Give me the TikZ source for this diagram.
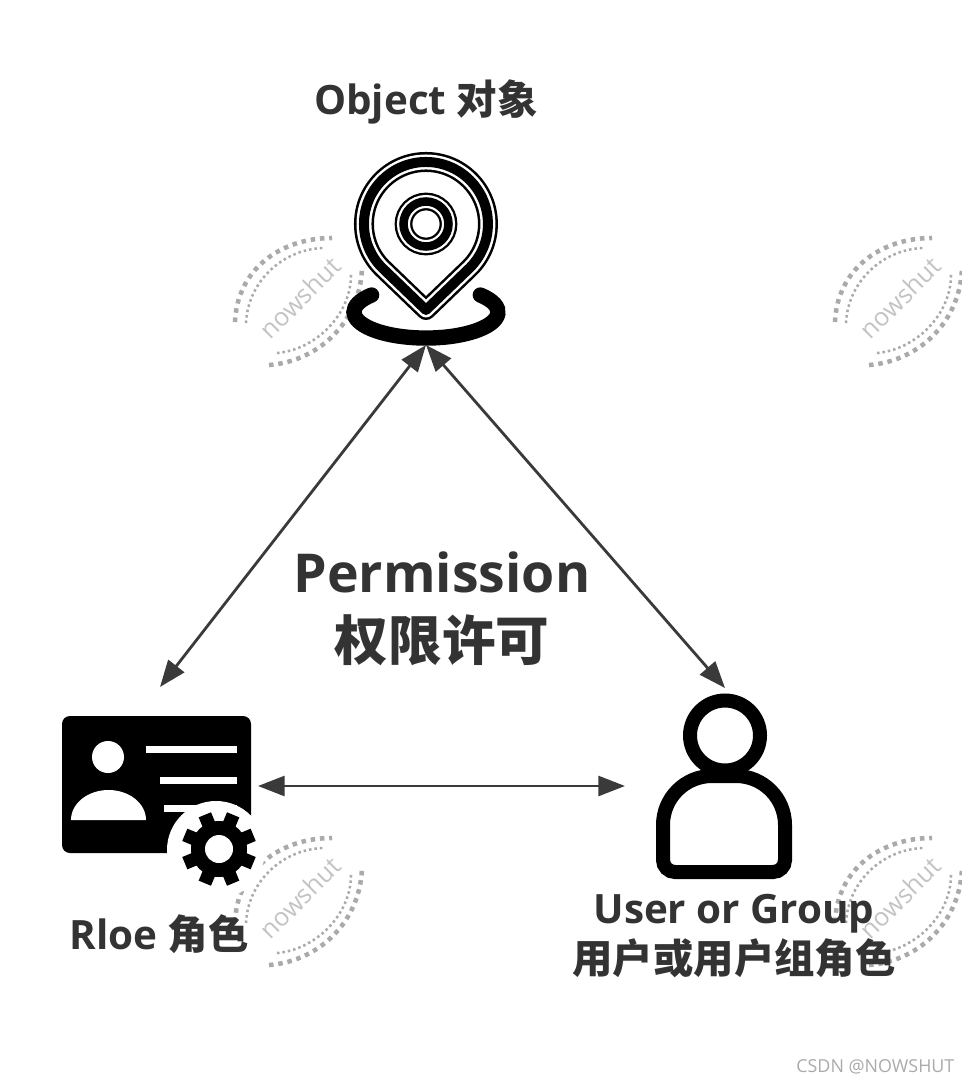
\documentclass[tikz,border=0pt]{standalone}
\usepackage{fontspec}
\setmainfont{Open Sans}
\newfontfamily\cjk{Noto Sans CJK SC}
\usetikzlibrary{arrows.meta,positioning}
\definecolor{inkGray}{RGB}{51,51,51}
\definecolor{arrowGray}{RGB}{58,58,58}
\definecolor{wmarkGray}{RGB}{170,170,170}
\definecolor{wmarkText}{RGB}{195,195,195}
\definecolor{footGray}{RGB}{170,170,170}
\tikzset{
  icon box/.style={inner sep=0pt,outer sep=0pt},
  small title/.style={align=center,text=inkGray,font=\fontsize{30.3pt}{37.5pt}\selectfont\bfseries},
  big title/.style={align=center,text=inkGray,font=\fontsize{40.2pt}{51pt}\selectfont\bfseries},
  link arrow/.style={{Triangle[length=20pt,width=15pt]}-{Triangle[length=20pt,width=15pt]},line width=2.1pt,draw=arrowGray},
  wmark outer/.style={draw=wmarkGray,line width=3.4pt,dash pattern=on 3.4pt off 3.6pt},
  wmark inner/.style={draw=wmarkGray,line width=1.9pt,dash pattern=on 1.9pt off 2.2pt},
  icon line/.style={draw=black,line width=10.5pt}
}
\begin{document}
\begin{tikzpicture}[x=.75pt,y=-.75pt]
  \useasboundingbox (0,0) rectangle (962,1084);
  % watermarks
  \foreach \wx in {0,600} {
    \foreach \wy in {0,600} {
      \begin{scope}[shift={(\wx,\wy)}]
        \draw[wmark outer] (235,322) .. controls (237,270) and (280,238) .. (332,238);
        \draw[wmark inner] (246,323) .. controls (248,280) and (285,248) .. (325,248);
        \draw[wmark outer] (269,365) .. controls (315,362) and (360,325) .. (362,268);
        \draw[wmark inner] (277,353) .. controls (315,350) and (351,315) .. (351,275);
        \node[rotate=45,text=wmarkText,font=\fontsize{19pt}{19pt}\selectfont] (wmark\wx\wy) at (300,298) {nowshut};
      \end{scope}
    }
  }
  % icon places
  \node[icon box,minimum width=121.5pt,minimum height=142.5pt] (object) at (426,250) {};
  \node[icon box,minimum width=147pt,minimum height=148.5pt] (role) at (160,786) {};
  \node[icon box,minimum width=150pt,minimum height=147pt] (user) at (725,786) {};
  % object icon
  \foreach \w/\c in {15/black,11.2/white,7.5/black} {
    \draw[draw=\c,line width=\w pt,line join=round] (426,310) -- (469.8,267.8) arc[start angle=45,end angle=-225,radius=62] -- cycle;
  }
  \foreach \w/\c in {13.3/black,9.8/white,6.4/black} {
    \draw[draw=\c,line width=\w pt] (426,224) circle[radius=22.5];
  }
  \draw[icon line,line width=11.5pt,line cap=round] (480.3,295) arc[start angle=-41,end angle=221,x radius=72,y radius=26];
  % role icon
  \fill[black,rounded corners=6pt] (62,716) rectangle (251,853);
  \fill[white] (108,757) circle[radius=16];
  \fill[white] (71,820) arc[start angle=180,end angle=360,x radius=37.5,y radius=30] -- cycle;
  \foreach \lx/\ly in {146/746,160/777,164/805} {
    \fill[white] (\lx,\ly) rectangle (237,\ly+6.5);
  }
  \fill[white] (216,850) circle[radius=49];
  \fill[black] (219,849) circle[radius=28];
  \foreach \a in {0,45,...,315} {
    \draw[black,line width=10pt] (219,849) ++(\a+22.5:24) -- ++(\a+22.5:13);
  }
  \fill[white] (219,849) circle[radius=14];
  % user icon
  \draw[icon line] (725,735.5) circle[radius=35];
  \draw[icon line] (663,825) arc[start angle=180,end angle=270,radius=49] -- (736,776) arc[start angle=-90,end angle=0,radius=49] -- (785,860) arc[start angle=0,end angle=90,radius=12] -- (675,872) arc[start angle=90,end angle=180,radius=12] -- cycle;
  % connectors
  \draw[link arrow] (object.south) -- (role.north);
  \draw[link arrow] (object.south) -- (user.north);
  \draw[link arrow] (role.east) -- (user.west);
  % labels
  \node[small title] (objectLabel) at (426,102) {Object {\cjk 对象}};
  \node[big title] (permLabel) at (442,609) {Permission\\{\cjk 权限许可}};
  \node[small title] (roleLabel) at (159,934) {Rloe {\cjk 角色}};
  \node[small title] (userLabel) at (734,936) {User or Group\\{\cjk 用户或用户组角色}};
  \node[text=footGray,font=\fontsize{13.4pt}{13.4pt}\selectfont,anchor=east] (footLabel) at (959,1067) {CSDN @NOWSHUT};
\end{tikzpicture}
\end{document}
